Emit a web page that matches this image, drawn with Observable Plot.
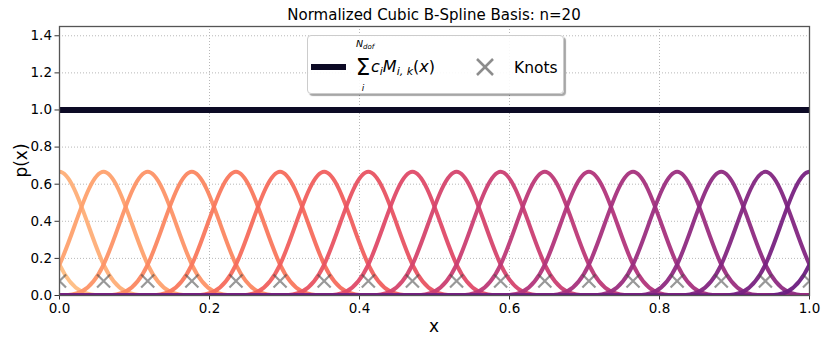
<!DOCTYPE html>
<html>
<head>
<meta charset="utf-8">
<script src="https://cdn.jsdelivr.net/npm/d3@7"></script>
<script src="https://cdn.jsdelivr.net/npm/@observablehq/plot@0.6"></script>
<style>
  html, body { margin: 0; padding: 0; background: #fff; }
  #wrap { position: relative; width: 830px; height: 346px; font-family: "DejaVu Sans", sans-serif; }
  #legend { position: absolute; left: 307px; top: 35px; width: 255px; height: 57px;
    background: rgba(255,255,255,0.9); border: 1px solid #cccccc; border-radius: 4px;
    box-shadow: 2px 2px 1px rgba(0,0,0,0.35); }
</style>
</head>
<body>
<div id="wrap"></div>
<script>
// ---- data ----
const title = "Normalized Cubic B-Spline Basis: n=20";
const nBasis = 20;
// knot positions (shown as X markers)
const knots = [0, 0.0588, 0.1176, 0.1765, 0.2353, 0.2941, 0.3529, 0.4118, 0.4706,
  0.5294, 0.5882, 0.6471, 0.7059, 0.7647, 0.8235, 0.8824, 0.9412, 1.0];
const knotMarkerY = 0.078;
// B-spline control grid (extended knot grid)
const controlX = [-0.2353, -0.1765, -0.1176, -0.0588, 0, 0.0588, 0.1176, 0.1765, 0.2353,
  0.2941, 0.3529, 0.4118, 0.4706, 0.5294, 0.5882, 0.6471, 0.7059, 0.7647, 0.8235,
  0.8824, 0.9412, 1.0, 1.0588, 1.1176, 1.1765, 1.2353];
// index in controlX of each basis function's coefficient
const basisIndex = [3, 4, 5, 6, 7, 8, 9, 10, 11, 12, 13, 14, 15, 16, 17, 18, 19, 20, 21, 22];
// coefficients c_i
const coefficients = [1, 1, 1, 1, 1, 1, 1, 1, 1, 1, 1, 1, 1, 1, 1, 1, 1, 1, 1, 1];
// sum of all basis functions (control values of the summed spline)
const sumControl = [1, 1, 1, 1, 1, 1, 1, 1, 1, 1, 1, 1, 1, 1, 1, 1, 1, 1, 1, 1, 1, 1, 1, 1, 1, 1];
const xTicks = [0, 0.2, 0.4, 0.6, 0.8, 1.0];
const yTicks = [0, 0.2, 0.4, 0.6, 0.8, 1.0, 1.2, 1.4];

// ---- build tables ----
const basisSeries = basisIndex.map((bi, j) =>
  controlX.map((x, i) => ({x, y: i === bi ? coefficients[j] : 0})));
const sumSeries = controlX.map((x, i) => ({x, y: sumControl[i]}));
const knotPts = knots.map(x => ({x, y: knotMarkerY}));
const colors = basisIndex.map((_, j) => d3.interpolateMagma(0.86 - j * (0.54 / (nBasis - 1))));

const W = 830, H = 346;
const mL = 59, mR = 21, mT = 26, mB = 51;

const marks = [
  Plot.gridX(xTicks.slice(1, -1), {stroke: "#b0b0b0", strokeOpacity: 1, strokeDasharray: "1,2", strokeWidth: 0.9}),
  Plot.gridY(yTicks.slice(1), {stroke: "#b0b0b0", strokeOpacity: 1, strokeDasharray: "1,2", strokeWidth: 0.9}),
  Plot.line(sumSeries, {x: "x", y: "y", curve: "basis", stroke: "#0c0a25", strokeWidth: 6, clip: true}),
  ...basisSeries.map((s, j) => Plot.line(s, {x: "x", y: "y", curve: "basis", stroke: colors[j], strokeWidth: 4, strokeOpacity: 0.95, clip: true})),
  Plot.dot(knotPts, {x: "x", y: "y", symbol: "times", r: 6, stroke: "#444", strokeOpacity: 0.55, strokeWidth: 2.2, clip: true}),
  Plot.axisX(xTicks, {tickSize: 4.5, tickPadding: 3, tickFormat: d3.format(".1f"), fontSize: 13.5, label: null, stroke: "#333"}),
  Plot.axisY(yTicks, {tickSize: 4.5, tickPadding: 3, tickFormat: d3.format(".1f"), fontSize: 13.5, label: null, stroke: "#333"}),
  Plot.frame({stroke: "#555", strokeWidth: 1.3})
];

const chart = Plot.plot({
  width: W, height: H,
  marginLeft: mL, marginRight: mR, marginTop: mT, marginBottom: mB,
  style: {fontFamily: "DejaVu Sans, sans-serif", color: "#000", background: "#fff", overflow: "visible"},
  x: {domain: [0, 1], label: null},
  y: {domain: [0, 1.45], label: null},
  marks
});

const svg = d3.select(chart);
const cx = mL + (W - mL - mR) / 2;
svg.append("text").attr("x", cx).attr("y", 20).attr("text-anchor", "middle")
  .attr("font-size", 15).attr("fill", "#000").text(title);
svg.append("text").attr("x", cx).attr("y", 332).attr("text-anchor", "middle")
  .attr("font-size", 17).attr("fill", "#000").text("x");
svg.append("text").attr("transform", `translate(27,${mT + (H - mT - mB) / 2}) rotate(-90)`)
  .attr("text-anchor", "middle").attr("font-size", 17).attr("fill", "#000").text("p(x)");

const wrap = document.getElementById("wrap");
wrap.appendChild(chart);

// legend
const leg = document.createElement("div");
leg.id = "legend";
leg.innerHTML = `
<svg width="255" height="57" style="font-family:'DejaVu Sans',sans-serif">
  <line x1="3" x2="38" y1="31" y2="31" stroke="#0c0a25" stroke-width="6"/>
  <text x="55" y="39" font-size="23" text-anchor="middle">Σ</text>
  <text x="48" y="11" font-size="9.5" font-style="italic">N<tspan font-size="7" dy="2">dof</tspan></text>
  <text x="55" y="55" font-size="9" font-style="italic" text-anchor="middle">i</text>
  <text x="63" y="36" font-size="16" font-style="italic">c<tspan font-size="11" dy="3">i</tspan><tspan dy="-3">M</tspan><tspan font-size="11" dy="3">i, k</tspan><tspan dy="-3" font-style="normal">(</tspan>x<tspan font-style="normal">)</tspan></text>
  <g stroke="#808080" stroke-width="2.5" opacity="0.9">
    <line x1="169" y1="23" x2="185" y2="39"/>
    <line x1="169" y1="39" x2="185" y2="23"/>
  </g>
  <text x="206" y="37" font-size="15.5">Knots</text>
</svg>`;
wrap.appendChild(leg);
</script>
</body>
</html>
